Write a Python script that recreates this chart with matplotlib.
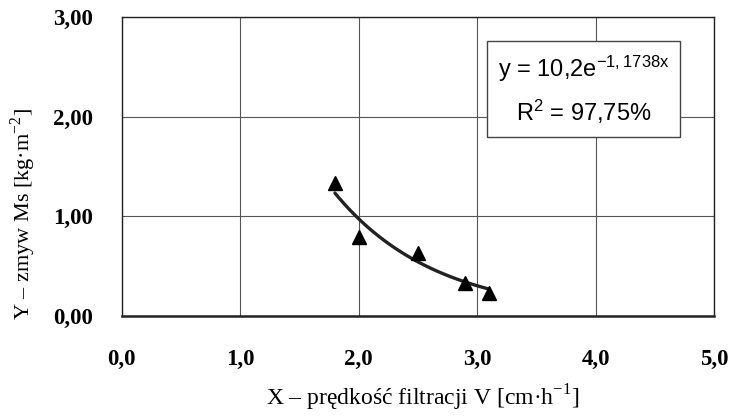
import numpy as np
import matplotlib
matplotlib.use('Agg')
import matplotlib.pyplot as plt

# measured points
x_pts = [1.8, 2.0, 2.5, 2.9, 3.1]
y_pts = [1.33, 0.79, 0.63, 0.33, 0.23]

# trendline coefficients shown in the chart: y = a*exp(b*x)
coef_a = 10.2
coef_b = -1.1738
r2_text = '97,75%'

x_ticks = [0, 1, 2, 3, 4, 5]
x_ticklabels = ['0,0', '1,0', '2,0', '3,0', '4,0', '5,0']
y_ticks = [0, 1, 2, 3]
y_ticklabels = ['0,00', '1,00', '2,00', '3,00']

plt.rcParams['mathtext.fontset'] = 'custom'
plt.rcParams['mathtext.rm'] = 'Liberation Serif'
plt.rcParams['mathtext.sf'] = 'Liberation Sans'
plt.rcParams['axes.unicode_minus'] = True

fig = plt.figure(figsize=(7.31, 4.16), dpi=100)
ax = fig.add_axes([0.1665, 0.2411, 0.9767 - 0.1665, 0.9584 - 0.2411])

xs = np.linspace(min(x_pts), max(x_pts), 100)
ax.plot(xs, coef_a * np.exp(coef_b * xs), color='#222222', lw=2.4,
        solid_capstyle='round', zorder=3)
ax.plot(x_pts, y_pts, '^', color='black', ms=9.5, zorder=4)

ax.set_xlim(0, 5)
ax.set_ylim(0, 3)
ax.tick_params(axis='both', length=0, labelsize=16)
ax.tick_params(axis='x', pad=24)
ax.tick_params(axis='y', pad=21)
ax.set_xticks(x_ticks)
ax.set_xticklabels(x_ticklabels, family='Liberation Serif', weight='bold', size=16.5)
ax.set_yticks(y_ticks)
ax.set_yticklabels(y_ticklabels, family='Liberation Serif', weight='bold', size=16.5)
ax.grid(True, color='#555555', lw=0.8)
ax.set_axisbelow(True)

for s in ax.spines.values():
    s.set_color('#222222')
    s.set_linewidth(1.0)
ax.spines['bottom'].set_linewidth(1.8)

ax.set_xlabel(r'X – prędkość filtracji V [cm·h$^{-1}$]',
              family='Liberation Serif', fontsize=17, va='center')
ax.xaxis.set_label_coords(0.509, -0.276)
ax.set_ylabel(r'Y – zmyw Ms [kg·m$^{-2}$]',
              family='Liberation Serif', fontsize=16, va='center')
ax.yaxis.set_label_coords(-0.1666, 0.34)

eq = 'y = 10,2e' + r'$\mathsf{^{-1,1738x}}$' + '\n' + 'R' + r'$\mathsf{^{2}}$' + ' = ' + r2_text
ax.text(0.78, 0.756, eq, transform=ax.transAxes, ha='center', va='center',
        family='Liberation Sans', fontsize=17, linespacing=1.6, zorder=5,
        bbox=dict(boxstyle='square,pad=0.45', fc='white', ec='#444444', lw=1.0))

fig.savefig('out.png', dpi=100)
